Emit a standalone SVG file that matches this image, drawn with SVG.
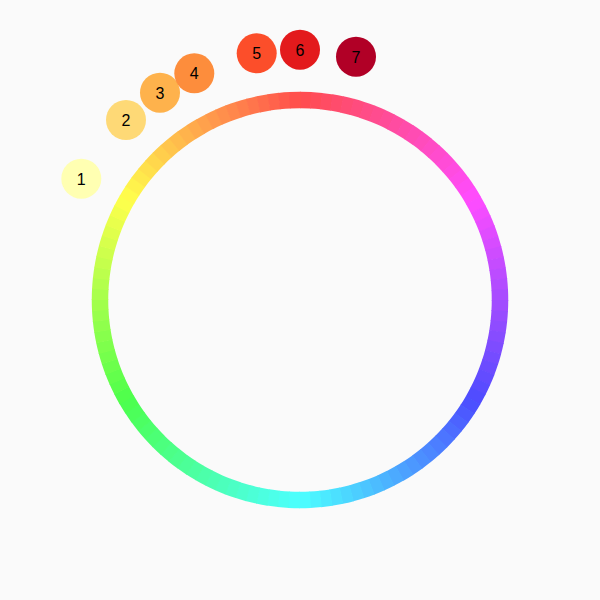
<svg xmlns="http://www.w3.org/2000/svg" width="600" height="600" viewBox="0 0 600 600">
<style>
.seg{fill:none;stroke-width:16.5;stroke-dasharray:11.2 1246}
.node text{font-family:"Liberation Sans",Arial,sans-serif;font-size:16px;fill:#000;text-anchor:middle}
</style>
<rect width="600" height="600" fill="#fafafa"/>
<g id="ring" transform="translate(300,300)">
<circle class="seg" r="200" stroke="hsl(358.5,100%,65%)" transform="rotate(-90)"/>
<circle class="seg" r="200" stroke="hsl(355.5,100%,65%)" transform="rotate(-87)"/>
<circle class="seg" r="200" stroke="hsl(352.5,100%,65%)" transform="rotate(-84)"/>
<circle class="seg" r="200" stroke="hsl(349.5,100%,65%)" transform="rotate(-81)"/>
<circle class="seg" r="200" stroke="hsl(346.5,100%,65%)" transform="rotate(-78)"/>
<circle class="seg" r="200" stroke="hsl(343.5,100%,65%)" transform="rotate(-75)"/>
<circle class="seg" r="200" stroke="hsl(340.5,100%,65%)" transform="rotate(-72)"/>
<circle class="seg" r="200" stroke="hsl(337.5,100%,65%)" transform="rotate(-69)"/>
<circle class="seg" r="200" stroke="hsl(334.5,100%,65%)" transform="rotate(-66)"/>
<circle class="seg" r="200" stroke="hsl(331.5,100%,65%)" transform="rotate(-63)"/>
<circle class="seg" r="200" stroke="hsl(328.5,100%,65%)" transform="rotate(-60)"/>
<circle class="seg" r="200" stroke="hsl(325.5,100%,65%)" transform="rotate(-57)"/>
<circle class="seg" r="200" stroke="hsl(322.5,100%,65%)" transform="rotate(-54)"/>
<circle class="seg" r="200" stroke="hsl(319.5,100%,65%)" transform="rotate(-51)"/>
<circle class="seg" r="200" stroke="hsl(316.5,100%,65%)" transform="rotate(-48)"/>
<circle class="seg" r="200" stroke="hsl(313.5,100%,65%)" transform="rotate(-45)"/>
<circle class="seg" r="200" stroke="hsl(310.5,100%,65%)" transform="rotate(-42)"/>
<circle class="seg" r="200" stroke="hsl(307.5,100%,65%)" transform="rotate(-39)"/>
<circle class="seg" r="200" stroke="hsl(304.5,100%,65%)" transform="rotate(-36)"/>
<circle class="seg" r="200" stroke="hsl(301.5,100%,65%)" transform="rotate(-33)"/>
<circle class="seg" r="200" stroke="hsl(298.5,100%,65%)" transform="rotate(-30)"/>
<circle class="seg" r="200" stroke="hsl(295.5,100%,65%)" transform="rotate(-27)"/>
<circle class="seg" r="200" stroke="hsl(292.5,100%,65%)" transform="rotate(-24)"/>
<circle class="seg" r="200" stroke="hsl(289.5,100%,65%)" transform="rotate(-21)"/>
<circle class="seg" r="200" stroke="hsl(286.5,100%,65%)" transform="rotate(-18)"/>
<circle class="seg" r="200" stroke="hsl(283.5,100%,65%)" transform="rotate(-15)"/>
<circle class="seg" r="200" stroke="hsl(280.5,100%,65%)" transform="rotate(-12)"/>
<circle class="seg" r="200" stroke="hsl(277.5,100%,65%)" transform="rotate(-9)"/>
<circle class="seg" r="200" stroke="hsl(274.5,100%,65%)" transform="rotate(-6)"/>
<circle class="seg" r="200" stroke="hsl(271.5,100%,65%)" transform="rotate(-3)"/>
<circle class="seg" r="200" stroke="hsl(268.5,100%,65%)" transform="rotate(0)"/>
<circle class="seg" r="200" stroke="hsl(265.5,100%,65%)" transform="rotate(3)"/>
<circle class="seg" r="200" stroke="hsl(262.5,100%,65%)" transform="rotate(6)"/>
<circle class="seg" r="200" stroke="hsl(259.5,100%,65%)" transform="rotate(9)"/>
<circle class="seg" r="200" stroke="hsl(256.5,100%,65%)" transform="rotate(12)"/>
<circle class="seg" r="200" stroke="hsl(253.5,100%,65%)" transform="rotate(15)"/>
<circle class="seg" r="200" stroke="hsl(250.5,100%,65%)" transform="rotate(18)"/>
<circle class="seg" r="200" stroke="hsl(247.5,100%,65%)" transform="rotate(21)"/>
<circle class="seg" r="200" stroke="hsl(244.5,100%,65%)" transform="rotate(24)"/>
<circle class="seg" r="200" stroke="hsl(241.5,100%,65%)" transform="rotate(27)"/>
<circle class="seg" r="200" stroke="hsl(238.5,100%,65%)" transform="rotate(30)"/>
<circle class="seg" r="200" stroke="hsl(235.5,100%,65%)" transform="rotate(33)"/>
<circle class="seg" r="200" stroke="hsl(232.5,100%,65%)" transform="rotate(36)"/>
<circle class="seg" r="200" stroke="hsl(229.5,100%,65%)" transform="rotate(39)"/>
<circle class="seg" r="200" stroke="hsl(226.5,100%,65%)" transform="rotate(42)"/>
<circle class="seg" r="200" stroke="hsl(223.5,100%,65%)" transform="rotate(45)"/>
<circle class="seg" r="200" stroke="hsl(220.5,100%,65%)" transform="rotate(48)"/>
<circle class="seg" r="200" stroke="hsl(217.5,100%,65%)" transform="rotate(51)"/>
<circle class="seg" r="200" stroke="hsl(214.5,100%,65%)" transform="rotate(54)"/>
<circle class="seg" r="200" stroke="hsl(211.5,100%,65%)" transform="rotate(57)"/>
<circle class="seg" r="200" stroke="hsl(208.5,100%,65%)" transform="rotate(60)"/>
<circle class="seg" r="200" stroke="hsl(205.5,100%,65%)" transform="rotate(63)"/>
<circle class="seg" r="200" stroke="hsl(202.5,100%,65%)" transform="rotate(66)"/>
<circle class="seg" r="200" stroke="hsl(199.5,100%,65%)" transform="rotate(69)"/>
<circle class="seg" r="200" stroke="hsl(196.5,100%,65%)" transform="rotate(72)"/>
<circle class="seg" r="200" stroke="hsl(193.5,100%,65%)" transform="rotate(75)"/>
<circle class="seg" r="200" stroke="hsl(190.5,100%,65%)" transform="rotate(78)"/>
<circle class="seg" r="200" stroke="hsl(187.5,100%,65%)" transform="rotate(81)"/>
<circle class="seg" r="200" stroke="hsl(184.5,100%,65%)" transform="rotate(84)"/>
<circle class="seg" r="200" stroke="hsl(181.5,100%,65%)" transform="rotate(87)"/>
<circle class="seg" r="200" stroke="hsl(178.5,100%,65%)" transform="rotate(90)"/>
<circle class="seg" r="200" stroke="hsl(175.5,100%,65%)" transform="rotate(93)"/>
<circle class="seg" r="200" stroke="hsl(172.5,100%,65%)" transform="rotate(96)"/>
<circle class="seg" r="200" stroke="hsl(169.5,100%,65%)" transform="rotate(99)"/>
<circle class="seg" r="200" stroke="hsl(166.5,100%,65%)" transform="rotate(102)"/>
<circle class="seg" r="200" stroke="hsl(163.5,100%,65%)" transform="rotate(105)"/>
<circle class="seg" r="200" stroke="hsl(160.5,100%,65%)" transform="rotate(108)"/>
<circle class="seg" r="200" stroke="hsl(157.5,100%,65%)" transform="rotate(111)"/>
<circle class="seg" r="200" stroke="hsl(154.5,100%,65%)" transform="rotate(114)"/>
<circle class="seg" r="200" stroke="hsl(151.5,100%,65%)" transform="rotate(117)"/>
<circle class="seg" r="200" stroke="hsl(148.5,100%,65%)" transform="rotate(120)"/>
<circle class="seg" r="200" stroke="hsl(145.5,100%,65%)" transform="rotate(123)"/>
<circle class="seg" r="200" stroke="hsl(142.5,100%,65%)" transform="rotate(126)"/>
<circle class="seg" r="200" stroke="hsl(139.5,100%,65%)" transform="rotate(129)"/>
<circle class="seg" r="200" stroke="hsl(136.5,100%,65%)" transform="rotate(132)"/>
<circle class="seg" r="200" stroke="hsl(133.5,100%,65%)" transform="rotate(135)"/>
<circle class="seg" r="200" stroke="hsl(130.5,100%,65%)" transform="rotate(138)"/>
<circle class="seg" r="200" stroke="hsl(127.5,100%,65%)" transform="rotate(141)"/>
<circle class="seg" r="200" stroke="hsl(124.5,100%,65%)" transform="rotate(144)"/>
<circle class="seg" r="200" stroke="hsl(121.5,100%,65%)" transform="rotate(147)"/>
<circle class="seg" r="200" stroke="hsl(118.5,100%,65%)" transform="rotate(150)"/>
<circle class="seg" r="200" stroke="hsl(115.5,100%,65%)" transform="rotate(153)"/>
<circle class="seg" r="200" stroke="hsl(112.5,100%,65%)" transform="rotate(156)"/>
<circle class="seg" r="200" stroke="hsl(109.5,100%,65%)" transform="rotate(159)"/>
<circle class="seg" r="200" stroke="hsl(106.5,100%,65%)" transform="rotate(162)"/>
<circle class="seg" r="200" stroke="hsl(103.5,100%,65%)" transform="rotate(165)"/>
<circle class="seg" r="200" stroke="hsl(100.5,100%,65%)" transform="rotate(168)"/>
<circle class="seg" r="200" stroke="hsl(97.5,100%,65%)" transform="rotate(171)"/>
<circle class="seg" r="200" stroke="hsl(94.5,100%,65%)" transform="rotate(174)"/>
<circle class="seg" r="200" stroke="hsl(91.5,100%,65%)" transform="rotate(177)"/>
<circle class="seg" r="200" stroke="hsl(88.5,100%,65%)" transform="rotate(180)"/>
<circle class="seg" r="200" stroke="hsl(85.5,100%,65%)" transform="rotate(183)"/>
<circle class="seg" r="200" stroke="hsl(82.5,100%,65%)" transform="rotate(186)"/>
<circle class="seg" r="200" stroke="hsl(79.5,100%,65%)" transform="rotate(189)"/>
<circle class="seg" r="200" stroke="hsl(76.5,100%,65%)" transform="rotate(192)"/>
<circle class="seg" r="200" stroke="hsl(73.5,100%,65%)" transform="rotate(195)"/>
<circle class="seg" r="200" stroke="hsl(70.5,100%,65%)" transform="rotate(198)"/>
<circle class="seg" r="200" stroke="hsl(67.5,100%,65%)" transform="rotate(201)"/>
<circle class="seg" r="200" stroke="hsl(64.5,100%,65%)" transform="rotate(204)"/>
<circle class="seg" r="200" stroke="hsl(61.5,100%,65%)" transform="rotate(207)"/>
<circle class="seg" r="200" stroke="hsl(58.5,100%,65%)" transform="rotate(210)"/>
<circle class="seg" r="200" stroke="hsl(55.5,100%,65%)" transform="rotate(213)"/>
<circle class="seg" r="200" stroke="hsl(52.5,100%,65%)" transform="rotate(216)"/>
<circle class="seg" r="200" stroke="hsl(49.5,100%,65%)" transform="rotate(219)"/>
<circle class="seg" r="200" stroke="hsl(46.5,100%,65%)" transform="rotate(222)"/>
<circle class="seg" r="200" stroke="hsl(43.5,100%,65%)" transform="rotate(225)"/>
<circle class="seg" r="200" stroke="hsl(40.5,100%,65%)" transform="rotate(228)"/>
<circle class="seg" r="200" stroke="hsl(37.5,100%,65%)" transform="rotate(231)"/>
<circle class="seg" r="200" stroke="hsl(34.5,100%,65%)" transform="rotate(234)"/>
<circle class="seg" r="200" stroke="hsl(31.5,100%,65%)" transform="rotate(237)"/>
<circle class="seg" r="200" stroke="hsl(28.5,100%,65%)" transform="rotate(240)"/>
<circle class="seg" r="200" stroke="hsl(25.5,100%,65%)" transform="rotate(243)"/>
<circle class="seg" r="200" stroke="hsl(22.5,100%,65%)" transform="rotate(246)"/>
<circle class="seg" r="200" stroke="hsl(19.5,100%,65%)" transform="rotate(249)"/>
<circle class="seg" r="200" stroke="hsl(16.5,100%,65%)" transform="rotate(252)"/>
<circle class="seg" r="200" stroke="hsl(13.5,100%,65%)" transform="rotate(255)"/>
<circle class="seg" r="200" stroke="hsl(10.5,100%,65%)" transform="rotate(258)"/>
<circle class="seg" r="200" stroke="hsl(7.5,100%,65%)" transform="rotate(261)"/>
<circle class="seg" r="200" stroke="hsl(4.5,100%,65%)" transform="rotate(264)"/>
<circle class="seg" r="200" stroke="hsl(1.5,100%,65%)" transform="rotate(267)"/>
</g>
<g id="node1" class="node"><circle cx="81.3" cy="178.7" r="20" fill="#ffffb2"/><text x="81.3" y="184.5">1</text></g>
<g id="node2" class="node"><circle cx="126" cy="120" r="20" fill="#fed976"/><text x="126" y="125.8">2</text></g>
<g id="node3" class="node"><circle cx="160" cy="92.7" r="20" fill="#feb24c"/><text x="160" y="98.5">3</text></g>
<g id="node4" class="node"><circle cx="194.3" cy="73.3" r="20" fill="#fd8d3c"/><text x="194.3" y="79.1">4</text></g>
<g id="node5" class="node"><circle cx="256.7" cy="53.3" r="20" fill="#fc4e2a"/><text x="256.7" y="59.1">5</text></g>
<g id="node6" class="node"><circle cx="300" cy="49.7" r="20" fill="#e31a1c"/><text x="300" y="55.5">6</text></g>
<g id="node7" class="node"><circle cx="356" cy="56.7" r="20" fill="#b10026"/><text x="356" y="62.5">7</text></g>
<g id="connectors"></g>
</svg>
